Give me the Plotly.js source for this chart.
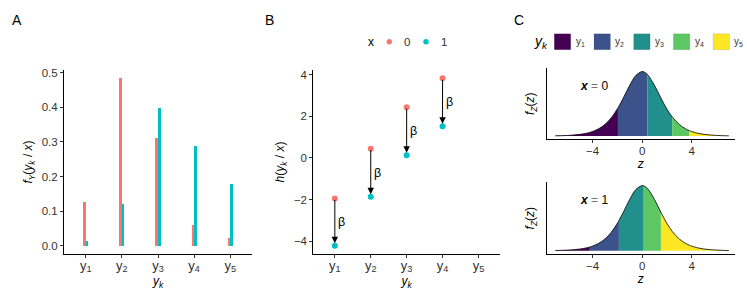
<!DOCTYPE html>
<html>
<head>
<meta charset="utf-8">
<script src="https://cdn.plot.ly/plotly-3.0.1.min.js"></script>
<style>html,body{margin:0;padding:0;background:#fff}#chart{width:747px;height:299px}</style>
</head>
<body>
<div id="chart"></div>
<script>
// ---------- data ----------
const categories = ['y<sub>1</sub>', 'y<sub>2</sub>', 'y<sub>3</sub>', 'y<sub>4</sub>', 'y<sub>5</sub>'];
const categoryIndex = [1, 2, 3, 4, 5];
const probX0 = [0.125, 0.484, 0.311, 0.059, 0.021];
const probX1 = [0.015, 0.120, 0.398, 0.288, 0.179];
const cutIndex = [1, 2, 3, 4];
const hX0 = [-1.95, 0.44, 2.43, 3.82];
const hX1 = [-4.22, -1.87, 0.13, 1.52];
const zGrid = [-7, -6.5, -6, -5.5, -5, -4.5, -4.22, -4, -3.5, -3, -2.5, -1.95, -1.87, -1.5, -1, -0.5, 0, 0.13, 0.44, 1, 1.52, 2, 2.43, 3, 3.5, 3.82, 4, 4.5, 5, 5.5, 6, 6.5, 7];
const density = [0.0009, 0.0015, 0.0025, 0.0041, 0.0066, 0.0109, 0.0143, 0.0177, 0.0285, 0.0452, 0.0701, 0.1091, 0.1157, 0.1491, 0.1966, 0.2350, 0.2500, 0.2489, 0.2383, 0.1966, 0.1473, 0.1050, 0.0743, 0.0452, 0.0285, 0.0210, 0.0177, 0.0109, 0.0066, 0.0041, 0.0025, 0.0015, 0.0009];
const viridis5 = ['#440154', '#3B528B', '#21908C', '#5DC863', '#FDE725'];
const groupColors = ['#F8766D', '#00BFC4'];
const groupNames = ['0', '1'];

// ---------- helpers ----------
const FONT = 'Liberation Sans, Arial, sans-serif';
const W = 747, H = 299;
const px = v => v / W;
const py = v => 1 - v / H;

function segments(cuts) {
  const out = [];
  const zmin = zGrid[0], zmax = zGrid[zGrid.length - 1];
  for (let i = 0; i <= cuts.length; i++) {
    const lo = i === 0 ? zmin : cuts[i - 1];
    const hi = i === cuts.length ? zmax : cuts[i];
    const xs = [], ys = [];
    zGrid.forEach((z, j) => { if (z >= lo - 1e-9 && z <= hi + 1e-9) { xs.push(z); ys.push(density[j]); } });
    out.push({ x: xs, y: ys });
  }
  return out;
}

const traces = [];
// Panel A bars
traces.push({ type: 'bar', x: categoryIndex, y: probX0, width: 0.07, offset: -0.07, marker: { color: groupColors[0] }, xaxis: 'x', yaxis: 'y', hoverinfo: 'skip' });
traces.push({ type: 'bar', x: categoryIndex, y: probX1, width: 0.07, offset: 0, marker: { color: groupColors[1] }, xaxis: 'x', yaxis: 'y', hoverinfo: 'skip' });
// Panel B points
[hX0, hX1].forEach((h, g) => {
  traces.push({ type: 'scatter', mode: 'markers', x: cutIndex, y: h, name: groupNames[g], marker: { color: groupColors[g], size: 6 }, xaxis: 'x2', yaxis: 'y2', hoverinfo: 'skip' });
});
// Panel C densities
[[hX0, 'x3', 'y3'], [hX1, 'x4', 'y4']].forEach(([cuts, xa, ya]) => {
  segments(cuts).forEach((s, i) => {
    traces.push({ type: 'scatter', mode: 'lines', x: s.x, y: s.y, fill: 'tozeroy', fillcolor: viridis5[i], line: { width: 0, shape: 'spline', color: viridis5[i] }, xaxis: xa, yaxis: ya, hoverinfo: 'skip' });
  });
  traces.push({ type: 'scatter', mode: 'lines', x: zGrid, y: density, line: { width: 0.8, color: '#000', shape: 'spline' }, xaxis: xa, yaxis: ya, hoverinfo: 'skip' });
});

const tickFont = { family: FONT, size: 11.5, color: '#333' };
const catTickFont = { family: FONT, size: 13, color: '#333' };
const titleFont = { family: FONT, size: 12, color: '#000' };
function axis(extra) {
  return Object.assign({ showline: true, linecolor: '#000', linewidth: 1, ticks: 'outside', ticklen: 3, tickcolor: '#333', tickwidth: 1, ticklabelstandoff: -4, showgrid: false, zeroline: false, tickfont: tickFont, fixedrange: true }, extra);
}
const yDomMain = [py(254), py(70)];

const annotations = [];
const shapes = [];
// panel labels
[['A', 17], ['B', 269], ['C', 519]].forEach(([t, x]) => annotations.push({ text: t, x: px(x), y: py(20), xref: 'paper', yref: 'paper', showarrow: false, xanchor: 'center', yanchor: 'middle', font: { family: FONT, size: 14, color: '#000' } }));
// arrows + beta labels in panel B
cutIndex.forEach((c, i) => {
  annotations.push({ x: c, y: hX1[i], ax: c, ay: hX0[i], xref: 'x2', yref: 'y2', axref: 'x2', ayref: 'y2', text: '', showarrow: true, arrowhead: 2, arrowsize: 1.3, arrowwidth: 1, arrowcolor: '#000', standoff: 2.5 });
  annotations.push({ x: c, y: (hX0[i] + hX1[i]) / 2, xref: 'x2', yref: 'y2', text: 'β', showarrow: false, xanchor: 'left', yanchor: 'middle', xshift: 1, font: { family: FONT, size: 12.5, color: '#000' } });
});
// x = 0 / x = 1 labels
[['0', 'x3', 'y3'], ['1', 'x4', 'y4']].forEach(([v, xa, ya]) => {
  annotations.push({ x: -3.9, y: 0.195, xref: xa, yref: ya, text: '<b><i>x</i></b> <span style="color:#777">=</span> ' + v, showarrow: false, font: { family: FONT, size: 12, color: '#000' } });
});

// legend for panel B (drawn by hand)
const legY = 41.7;
annotations.push({ text: 'x', x: px(370.7), y: py(legY), xref: 'paper', yref: 'paper', showarrow: false, xanchor: 'center', yanchor: 'middle', font: { family: FONT, size: 12, color: '#000' } });
groupNames.forEach((n, g) => {
  const cx = 389.3 + 36.7 * g;
  const r = 2.7;
  shapes.push({ type: 'circle', xref: 'paper', yref: 'paper', x0: px(cx - r), x1: px(cx + r), y0: py(legY + r), y1: py(legY - r), fillcolor: groupColors[g], line: { width: 0 } });
  annotations.push({ text: n, x: px(cx + 17.5), y: py(legY), xref: 'paper', yref: 'paper', showarrow: false, xanchor: 'center', yanchor: 'middle', font: { family: FONT, size: 11.5, color: '#333' } });
});
// legend for panel C (drawn by hand)
annotations.push({ text: '<i>y</i><sub><i>k</i></sub>', x: px(541), y: py(legY), xref: 'paper', yref: 'paper', showarrow: false, xanchor: 'center', yanchor: 'middle', font: { family: FONT, size: 14, color: '#000' } });
viridis5.forEach((c, i) => {
  const x0 = 554.3 + 39.7 * i;
  shapes.push({ type: 'rect', xref: 'paper', yref: 'paper', x0: px(x0), x1: px(x0 + 16.4), y0: py(49.7), y1: py(33.8), fillcolor: c, line: { width: 0.5, color: 'rgba(0,0,0,0.2)' } });
  annotations.push({ text: categories[i], x: px(x0 + 25.7), y: py(legY), xref: 'paper', yref: 'paper', showarrow: false, xanchor: 'center', yanchor: 'middle', font: { family: FONT, size: 10, color: '#333' } });
});

const layout = {
  width: W, height: H,
  margin: { l: 0, r: 0, t: 0, b: 0, autoexpand: false },
  paper_bgcolor: '#fff', plot_bgcolor: '#fff',
  font: { family: FONT, color: '#000' },
  showlegend: false,
  bargap: 0,
  xaxis: axis({ domain: [px(64), px(252)], anchor: 'y', range: [0.4, 5.6], tickfont: catTickFont, tickvals: categoryIndex, ticktext: categories, title: { text: '<i>y</i><sub><i>k</i></sub>', font: titleFont, standoff: 2 } }),
  yaxis: axis({ domain: yDomMain, anchor: 'x', range: [-0.024, 0.508], ticklabelstandoff: 0, tickvals: [0, 0.1, 0.2, 0.3, 0.4, 0.5], tickformat: '.1f', title: { text: '<i>f</i><sub><i>Y</i></sub>(<i>y</i><sub><i>k</i></sub> / <i>x</i>)', font: titleFont, standoff: 6 } }),
  xaxis2: axis({ domain: [px(313.3), px(500)], anchor: 'y2', range: [0.4, 5.6], tickfont: catTickFont, tickvals: categoryIndex, ticktext: categories, title: { text: '<i>y</i><sub><i>k</i></sub>', font: titleFont, standoff: 2 } }),
  yaxis2: axis({ domain: yDomMain, anchor: 'x2', range: [-4.62, 4.22], ticklabelstandoff: 0, tickvals: [-4, -2, 0, 2, 4], title: { text: '<i>h</i>(<i>y</i><sub><i>k</i></sub> / <i>x</i>)', font: titleFont, standoff: 6 } }),
  xaxis3: axis({ domain: [px(546.7), px(735)], anchor: 'y3', range: [-7.7, 7.5], ticklabelstandoff: -2, tickvals: [-4, 0, 4], title: { text: '<i>z</i>', font: titleFont, standoff: 0 } }),
  yaxis3: axis({ domain: [py(139.3), py(68.3)], anchor: 'x3', range: [-0.0125, 0.2625], ticks: '', showticklabels: false, title: { text: '<i>f</i><sub><i>Z</i></sub>(<i>z</i>)', font: titleFont, standoff: 8 } }),
  xaxis4: axis({ domain: [px(546.7), px(735)], anchor: 'y4', range: [-7.7, 7.5], ticklabelstandoff: -2, tickvals: [-4, 0, 4], title: { text: '<i>z</i>', font: titleFont, standoff: 0 } }),
  yaxis4: axis({ domain: [py(254), py(182.3)], anchor: 'x4', range: [-0.0125, 0.2625], ticks: '', showticklabels: false, title: { text: '<i>f</i><sub><i>Z</i></sub>(<i>z</i>)', font: titleFont, standoff: 8 } }),
  annotations: annotations,
  shapes: shapes
};

Plotly.newPlot('chart', traces, layout, { displayModeBar: false, staticPlot: true });
</script>
</body>
</html>
